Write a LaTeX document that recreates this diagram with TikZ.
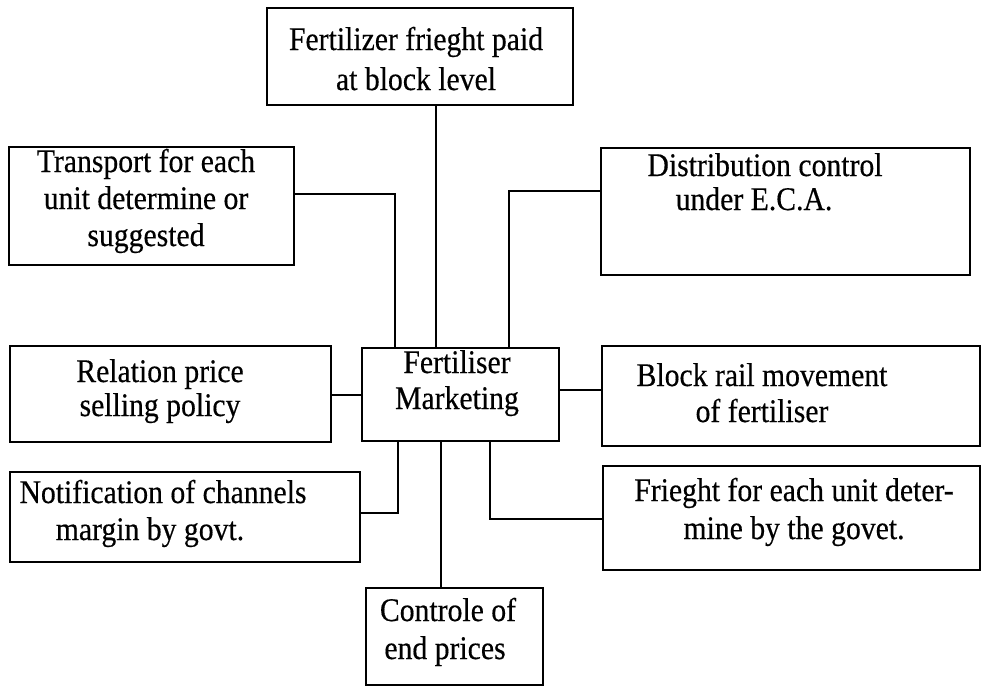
\documentclass[tikz,border=0pt]{standalone}
\usepackage{fontspec}
\setmainfont{Liberation Serif}[FakeStretch=0.9,FakeBold=0.4]
\begin{document}
\begin{tikzpicture}[x=1pt,y=-1pt,
  box/.style={draw=black,line width=2.8pt,rectangle,inner sep=0pt},
  link/.style={draw=black,line width=2.8pt,line cap=rect},
  txt/.style={font=\fontsize{33}{40}\selectfont,inner sep=0pt,anchor=base}]
\useasboundingbox (0,0) rectangle (987,688);
% boxes
\node[box,minimum width=306pt,minimum height=97pt] (tb) at (420,56.5) {};
\node[box,minimum width=285pt,minimum height=118pt] (ltb) at (151.5,206) {};
\node[box,minimum width=369pt,minimum height=127pt] (rtb) at (785.5,211.5) {};
\node[box,minimum width=197pt,minimum height=93pt] (cb) at (460.5,394.5) {};
\node[box,minimum width=321pt,minimum height=96pt] (lb) at (170.5,394) {};
\node[box,minimum width=378pt,minimum height=100pt] (rmb) at (791,396) {};
\node[box,minimum width=350pt,minimum height=90pt] (lbb) at (185,517) {};
\node[box,minimum width=377pt,minimum height=104pt] (rbb) at (791.5,518) {};
\node[box,minimum width=177pt,minimum height=97pt] (bb) at (454.5,636.5) {};
% texts
\node[txt] (tb1) at (416,50) {Fertilizer frieght paid};
\node[txt] (tb2) at (416,90) {at block level};
\node[txt] (ltb1) at (146,172) {Transport for each};
\node[txt] (ltb2) at (146,209) {unit determine or};
\node[txt] (ltb3) at (146,246) {suggested};
\node[txt] (rtb1) at (765,176) {Distribution control};
\node[txt] (rtb2) at (754,210) {under E.C.A.};
\node[txt] (cb1) at (457,373) {Fertiliser};
\node[txt] (cb2) at (457,409) {Marketing};
\node[txt] (lb1) at (160,382) {Relation price};
\node[txt] (lb2) at (160,416) {selling policy};
\node[txt] (rmb1) at (762,386) {Block rail movement};
\node[txt] (rmb2) at (762,422) {of fertiliser};
\node[txt] (lbb1) at (163,503) {Notification of channels};
\node[txt] (lbb2) at (150,540) {margin by govt.};
\node[txt] (rbb1) at (794,501) {Frieght for each unit deter-};
\node[txt] (rbb2) at (794,539) {mine by the govet.};
\node[txt] (bb1) at (448,621) {Controle of};
\node[txt] (bb2) at (445,659) {end prices};
% connectors
\draw[link] (tb.south -| 436,0) -- (cb.north -| 436,0);
\draw[link] (ltb.east |- 0,194) -- (395,194) -- (cb.north -| 395,0);
\draw[link] (rtb.west |- 0,191) -- (509,191) -- (cb.north -| 509,0);
\draw[link] (lb.east |- 0,395) -- (cb.west |- 0,395);
\draw[link] (cb.east |- 0,390) -- (rmb.west |- 0,390);
\draw[link] (cb.south -| 398,0) -- (398,513) -- (lbb.east |- 0,513);
\draw[link] (cb.south -| 490,0) -- (490,519) -- (rbb.west |- 0,519);
\draw[link] (cb.south -| 441,0) -- (bb.north -| 441,0);
\end{tikzpicture}
\end{document}
